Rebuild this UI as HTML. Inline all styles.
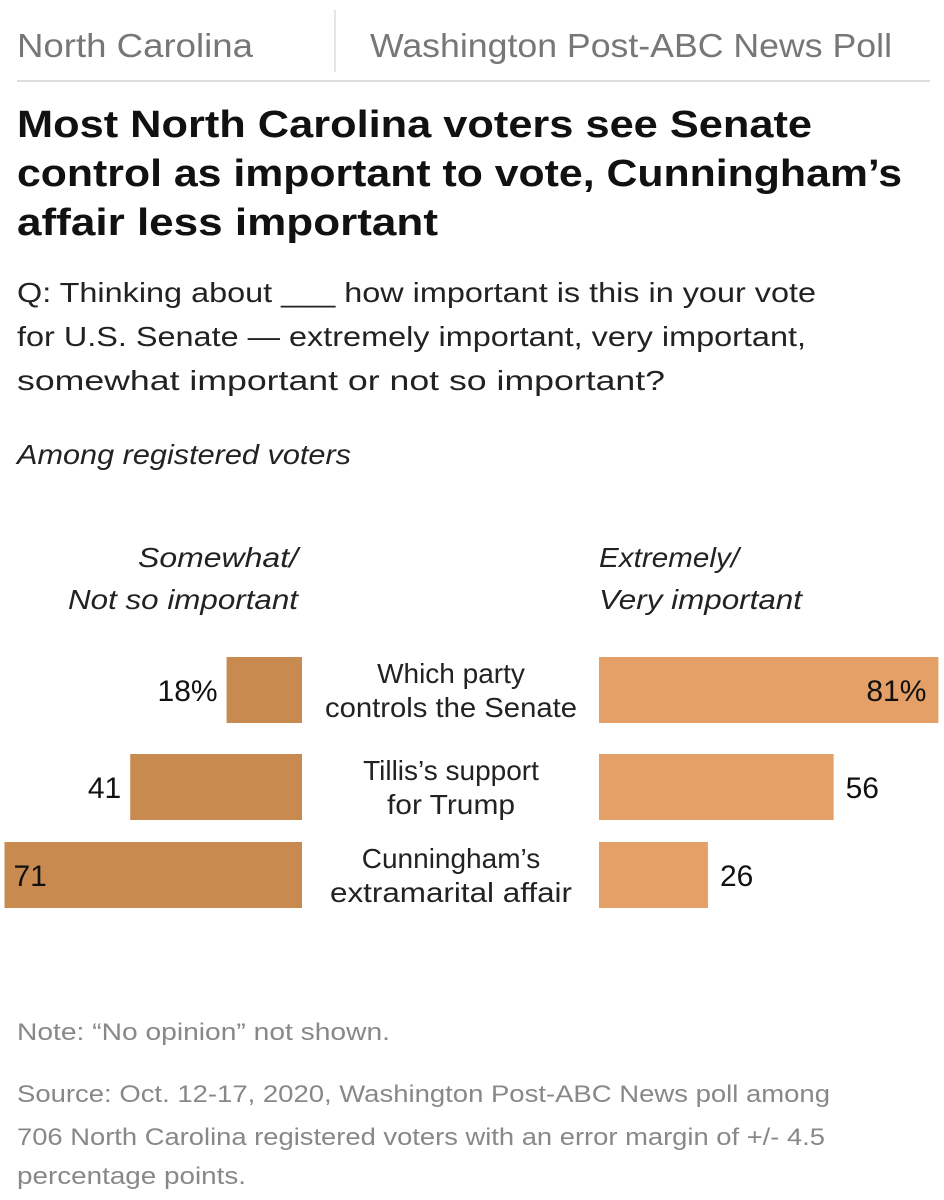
<!DOCTYPE html>
<html><head><meta charset="utf-8"><style>
html,body{margin:0;padding:0;background:#fff;}
svg{display:block;font-family:"Liberation Sans",sans-serif;}
</style></head><body>
<svg width="944" height="1200" viewBox="0 0 944 1200">
<g>
<text x="17" y="57" font-size="33" fill="#777" textLength="236" lengthAdjust="spacingAndGlyphs">North Carolina</text>
<line x1="335" y1="10" x2="335" y2="72" stroke="#ddd" stroke-width="1.5"/>
<text x="370" y="57" font-size="33" fill="#777" textLength="522" lengthAdjust="spacingAndGlyphs">Washington Post-ABC News Poll</text>
<line x1="17" y1="81" x2="930" y2="81" stroke="#ddd" stroke-width="2"/>
</g>
<g font-weight="bold" font-size="38" fill="#111">
<text x="17" y="137" textLength="795" lengthAdjust="spacingAndGlyphs">Most North Carolina voters see Senate</text>
<text x="17" y="186" textLength="885" lengthAdjust="spacingAndGlyphs">control as important to vote, Cunningham’s</text>
<text x="17" y="235" textLength="421" lengthAdjust="spacingAndGlyphs">affair less important</text>
</g>
<g font-size="28" fill="#222">
<text x="17" y="302" textLength="799" lengthAdjust="spacingAndGlyphs">Q: Thinking about ___ how important is this in your vote</text>
<text x="17" y="346" textLength="789" lengthAdjust="spacingAndGlyphs">for U.S. Senate — extremely important, very important,</text>
<text x="17" y="390" textLength="648" lengthAdjust="spacingAndGlyphs">somewhat important or not so important?</text>
</g>
<text x="17" y="464" font-size="28" font-style="italic" fill="#222" textLength="334" lengthAdjust="spacingAndGlyphs">Among registered voters</text>
<g font-size="28" font-style="italic" fill="#222">
<text x="138" y="567" textLength="160" lengthAdjust="spacingAndGlyphs">Somewhat/</text>
<text x="68" y="609" textLength="230" lengthAdjust="spacingAndGlyphs">Not so important</text>
<text x="599" y="567" textLength="140" lengthAdjust="spacingAndGlyphs">Extremely/</text>
<text x="599" y="609" textLength="203" lengthAdjust="spacingAndGlyphs">Very important</text>
</g>
<g id="bars"></g>
<g font-size="24" fill="#888">
<text x="17" y="1040" textLength="373" lengthAdjust="spacingAndGlyphs">Note: “No opinion” not shown.</text>
<text x="17" y="1102" textLength="813" lengthAdjust="spacingAndGlyphs">Source:  Oct. 12-17, 2020, Washington Post-ABC News poll among</text>
<text x="17" y="1145" textLength="808" lengthAdjust="spacingAndGlyphs">706 North Carolina registered voters with an error margin of +/- 4.5</text>
<text x="17" y="1184" textLength="229" lengthAdjust="spacingAndGlyphs">percentage points.</text>
</g>
</svg>
<script>
const categories1 = ["Which party", "Tillis’s support", "Cunningham’s"];
const categories2 = ["controls the Senate", "for Trump", "extramarital affair"];
const notImportant = [18, 41, 71];
const important = [81, 56, 26];
const leftLabels = ["18%", "41", "71"];
const rightLabels = ["81%", "56", "26"];

const NS = "http://www.w3.org/2000/svg";
const g = document.getElementById("bars");
const scale = 4.19, leftEdge = 302, rightEdge = 599;
const rowTops = [657, 754, 842], barH = 66;
const line2W = [252, 128, 242];
function xl(v){ return leftEdge - v*scale; }
function xr(v){ return rightEdge + v*scale; }
function mk(tag, attrs){ const e=document.createElementNS(NS,tag); for(const k in attrs) e.setAttribute(k,attrs[k]); g.appendChild(e); return e; }
categories1.forEach((c,i)=>{
  const y = rowTops[i];
  const lb = mk("rect",{x:xl(notImportant[i]),y:y,width:leftEdge-xl(notImportant[i]),height:barH,fill:"#c98a50"});
  
  
  const rb = mk("rect",{x:rightEdge,y:y,width:xr(important[i])-rightEdge,height:barH,fill:"#e4a067"});
  
  
  const lw = leftEdge - xl(notImportant[i]);
  const lInside = lw > 200;
  const lt = mk("text",{x: lInside ? xl(notImportant[i])+9 : xl(notImportant[i])-9, y:y+barH/2+11, "text-anchor": lInside?"start":"end","font-size":30,fill:"#111"});
  lt.textContent = leftLabels[i];
  
  
  const rw = xr(important[i]) - rightEdge;
  const rInside = rw > 300;
  const rt = mk("text",{x: rInside ? xr(important[i])-12 : xr(important[i])+12, y:y+barH/2+11, "text-anchor": rInside?"end":"start","font-size":30,fill:"#111"});
  rt.textContent = rightLabels[i];
  
  
  const c1 = mk("text",{x:451,y:y+barH/2-7,"text-anchor":"middle","font-size":28,fill:"#222"});
  c1.textContent = c;
  
  
  const c2 = mk("text",{x:451,y:y+barH/2+27,"text-anchor":"middle","font-size":28,fill:"#222",textLength:line2W[i],lengthAdjust:"spacingAndGlyphs"});
  c2.textContent = categories2[i];
  
  
});
</script>
</body></html>
